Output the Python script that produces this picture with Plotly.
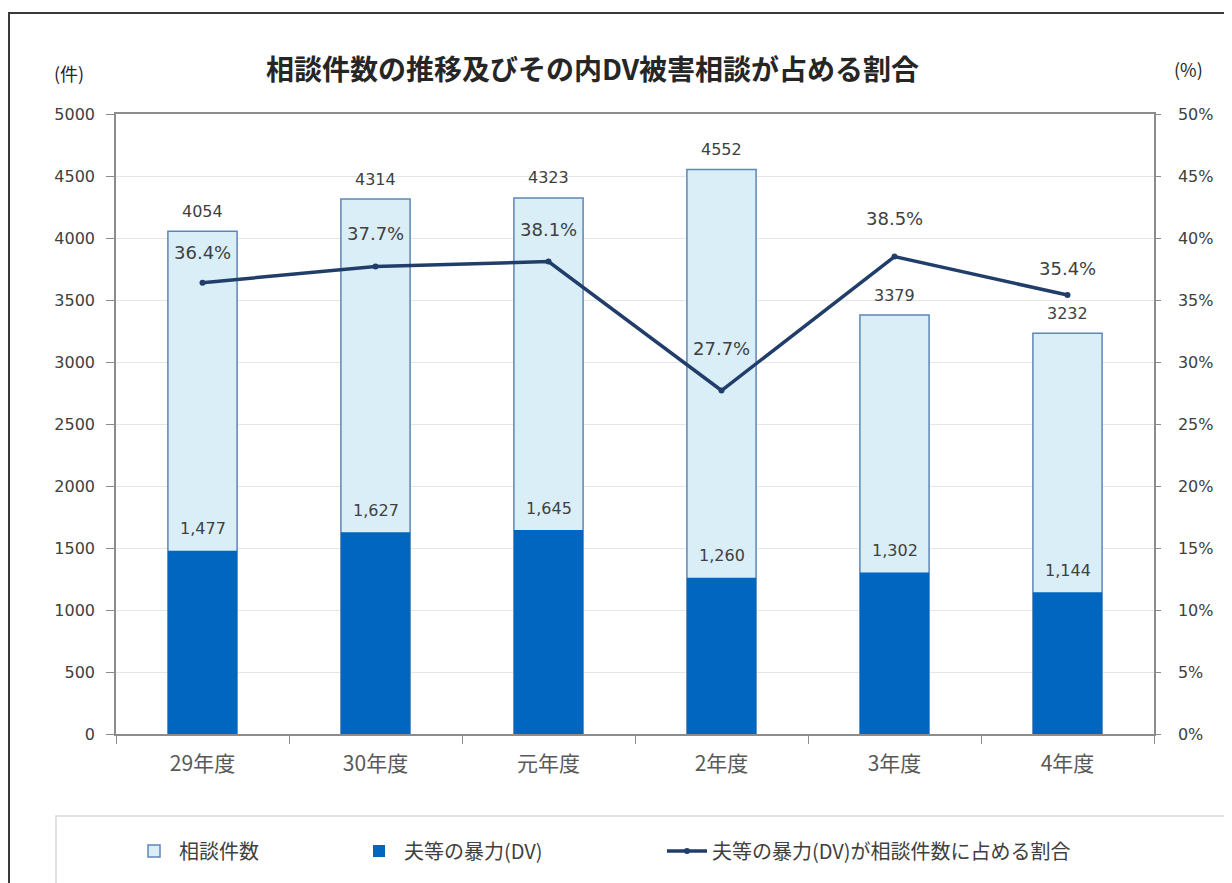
import plotly.graph_objects as go

categories = ["29年度", "30年度", "元年度", "2年度", "3年度", "4年度"]
total_counts = [4054, 4314, 4323, 4552, 3379, 3232]
dv_counts = [1477, 1627, 1645, 1260, 1302, 1144]
dv_ratio = [36.4, 37.7, 38.1, 27.7, 38.5, 35.4]

name_total = "相談件数"
name_dv = "夫等の暴力(DV)"
name_ratio = "夫等の暴力(DV)が相談件数に占める割合"

ratio_label_shift = [30, 33, 32, 42, 38, 27]

JP = "Noto Sans CJK JP"
NUM = "DejaVu Sans"
TXT = "#404040"

fig = go.Figure()
fig.add_trace(go.Bar(
    x=categories, y=total_counts, name=name_total, width=0.4,
    marker=dict(color="#DAEEF7", line=dict(color="#5E86B6", width=1.5)),
    legend="legend",
))
fig.add_trace(go.Bar(
    x=categories, y=dv_counts, name=name_dv, width=0.4,
    marker=dict(color="#0066C0", line=dict(color="#0066C0", width=0)),
    legend="legend2",
))
fig.add_trace(go.Scatter(
    x=categories, y=dv_ratio, name=name_ratio, yaxis="y2",
    mode="lines+markers",
    line=dict(color="#213E6A", width=3.5),
    marker=dict(color="#213E6A", size=6),
    legend="legend3",
))

ann = []
for c, v in zip(categories, total_counts):
    ann.append(dict(x=c, y=v, xref="x", yref="y", text=str(v), showarrow=False,
                    yshift=20, font=dict(family=NUM, size=16, color=TXT)))
for c, v in zip(categories, dv_counts):
    ann.append(dict(x=c, y=v, xref="x", yref="y", text=f"{v:,}", showarrow=False,
                    yshift=22, font=dict(family=NUM, size=16, color=TXT)))
for c, v, s in zip(categories, dv_ratio, ratio_label_shift):
    ann.append(dict(x=c, y=v, xref="x", yref="y2", text=f"{v:.1f}%", showarrow=False,
                    yshift=s, font=dict(family=NUM, size=18, color=TXT)))


def px(xr):
    return (xr - 115) / 1038


def py(yr):
    return (733 - yr) / 620


ann.append(dict(x=px(591), y=py(67), xref="paper", yref="paper", xanchor="center", yanchor="middle",
                text="<b>相談件数の推移及びその内DV被害相談が占める割合</b>",
                showarrow=False, font=dict(family=JP, size=28, color="#262626")))
ann.append(dict(x=px(68), y=py(72), xref="paper", yref="paper", xanchor="center", yanchor="middle",
                text="(件)", showarrow=False, font=dict(family=JP, size=18, color="#262626")))
ann.append(dict(x=px(1187), y=py(68), xref="paper", yref="paper", xanchor="center", yanchor="middle",
                text="(%)", showarrow=False, font=dict(family=JP, size=18, color="#262626")))

shapes = [
    dict(type="rect", xref="paper", yref="paper",
         x0=px(8), x1=1.2, y0=-0.3, y1=py(12),
         line=dict(color="#3a3a3a", width=2), layer="below"),
    dict(type="rect", xref="paper", yref="paper",
         x0=px(55), x1=1.2, y0=-0.3, y1=py(815),
         line=dict(color="#D9D9D9", width=1.5), layer="below"),
]

legend_common = dict(orientation="h", yanchor="middle", xanchor="left",
                     bgcolor="rgba(0,0,0,0)", font=dict(family=JP, size=20, color=TXT),
                     itemwidth=40)
ly = py(850)

fig.update_layout(
    width=1232, height=883,
    margin=dict(l=108, r=86, t=106, b=157),
    paper_bgcolor="white", plot_bgcolor="white",
    barmode="overlay",
    showlegend=True,
    legend=dict(**legend_common, x=px(128), y=ly),
    legend2=dict(**legend_common, x=px(353), y=ly),
    legend3=dict(**legend_common, x=px(661), y=ly),
    xaxis=dict(
        type="category", showline=True, linecolor="#8C8C8C", linewidth=1.5, mirror=True,
        ticks="outside", ticklen=8, tickcolor="#8C8C8C", tickson="boundaries",
        tickfont=dict(family=JP, size=21, color="#595959"), showgrid=False,
        ticklabelstandoff=10,
    ),
    yaxis=dict(
        range=[0, 5000], dtick=500, showline=True, linecolor="#8C8C8C", linewidth=1.5,
        ticks="outside", ticklen=8, tickcolor="#8C8C8C",
        gridcolor="#E6E6E6", gridwidth=1, ticklabelstandoff=8,
        tickfont=dict(family=NUM, size=16, color=TXT), zeroline=False,
    ),
    yaxis2=dict(
        range=[0, 50], dtick=5, overlaying="y", side="right", showline=True,
        linecolor="#8C8C8C", linewidth=1.5, ticks="outside", ticklen=5, tickcolor="#8C8C8C",
        ticksuffix="%", showgrid=False, zeroline=False, ticklabelstandoff=14,
        tickfont=dict(family=NUM, size=16, color=TXT),
    ),
    annotations=ann,
    shapes=shapes,
)

fig.write_html("out.html")
